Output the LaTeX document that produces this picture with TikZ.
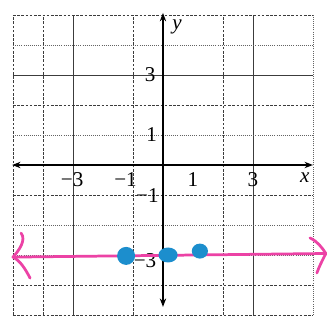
\documentclass[tikz,border=0pt]{standalone}
\usepackage{fontspec}
\setmainfont{Liberation Serif}
\usetikzlibrary{arrows.meta}
\definecolor{penpink}{RGB}{236,66,165}
\definecolor{penblue}{RGB}{28,142,205}
\definecolor{inkgray}{RGB}{60,60,60}

\begin{document}
\begin{tikzpicture}[
      gridsolid/.style={draw=inkgray, line width=0.9pt},
      griddash/.style={draw=inkgray, line width=0.7pt, dash pattern=on 2.5pt off 1.5pt},
      griddot/.style={draw=inkgray!80, line width=0.6pt, dash pattern=on 0.8pt off 1.2pt},
      axis/.style={line width=2.2pt, black, {Stealth[length=8pt,width=6pt]}-{Stealth[length=8pt,width=6pt]}},
      ticklabel/.style={font=\fontsize{20}{22}\selectfont, inner sep=0pt, text depth=0pt},
      varlabel/.style={font=\fontsize{20}{22}\selectfont\itshape, inner sep=0pt},
      pen/.style={penpink, line width=2.6pt, line cap=round, line join=round},
      dot/.style={fill=penblue, draw=none}
    ]
      \useasboundingbox[fill=white] (-5.433,-5.467) rectangle (5.467,5.5);
      % --- grid: vertical lines ---
      \foreach \x in {-3,3} \draw[gridsolid] (\x,-5) -- (\x,5);
      \foreach \x in {-5,-4,-1,2} \draw[griddash] (\x,-5) -- (\x,5);
      \draw[griddot] (5,-5) -- (5,5);
      % --- grid: horizontal lines ---
      \draw[gridsolid] (-5,3) -- (5,3);
      \foreach \y in {5,2,-1,-4,-5} \draw[griddash] (-5,\y) -- (5,\y);
      \foreach \y in {4,1,-2,-3} \draw[griddot] (-5,\y) -- (5,\y);
      % --- axes ---
      \coordinate (xl) at (-5.03,0);
      \coordinate (xr) at (5.0,0);
      \coordinate (yt) at (0,5.07);
      \coordinate (yb) at (0,-4.73);
      \draw[axis] (xl) -- (xr);
      \draw[axis] (yb) -- (yt);
      \node[varlabel] (xlab) at (4.73,-0.42) {x};
      \node[varlabel] (ylab) at (0.47,4.6) {y};
      % --- tick labels ---
      \node[ticklabel] (xm3) at (-3.03,-0.5) {−3};
      \node[ticklabel] (xm1) at (-1.25,-0.48) {−1};
      \node[ticklabel] (xp1) at (1.0,-0.5) {1};
      \node[ticklabel] (xp3) at (3.0,-0.5) {3};
      \node[ticklabel] (yp3) at (-0.43,3.0) {3};
      \node[ticklabel] (yp1) at (-0.38,1.0) {1};
      \node[ticklabel] (ym1) at (-0.52,-1.03) {−1};
      \node[ticklabel] (ym3) at (-0.6,-3.17) {−3};
      % --- pen line with hand drawn heads ---
      \coordinate (pl) at (-5.0,-3.07);
      \coordinate (pr) at (5.43,-2.95);
      \draw[pen] (pl) -- (pr);
      \draw[pen] (-4.73,-2.27) .. controls (-4.55,-2.5) and (-4.8,-2.85) .. (pl)
                 .. controls (-4.75,-3.2) and (-4.6,-3.45) .. (-4.43,-3.77);
      \draw[pen] (4.9,-2.43) .. controls (5.15,-2.55) and (5.3,-2.75) .. (pr)
                 .. controls (5.3,-3.2) and (5.2,-3.4) .. (5.13,-3.6);
      % --- plotted points ---
      \fill[dot] (-1.23,-3.03) circle (0.3);
      \fill[dot] (0.17,-3.0) ellipse [x radius=0.32, y radius=0.25];
      \fill[dot] (1.23,-2.87) ellipse [x radius=0.27, y radius=0.25];
    \end{tikzpicture}
\end{document}
